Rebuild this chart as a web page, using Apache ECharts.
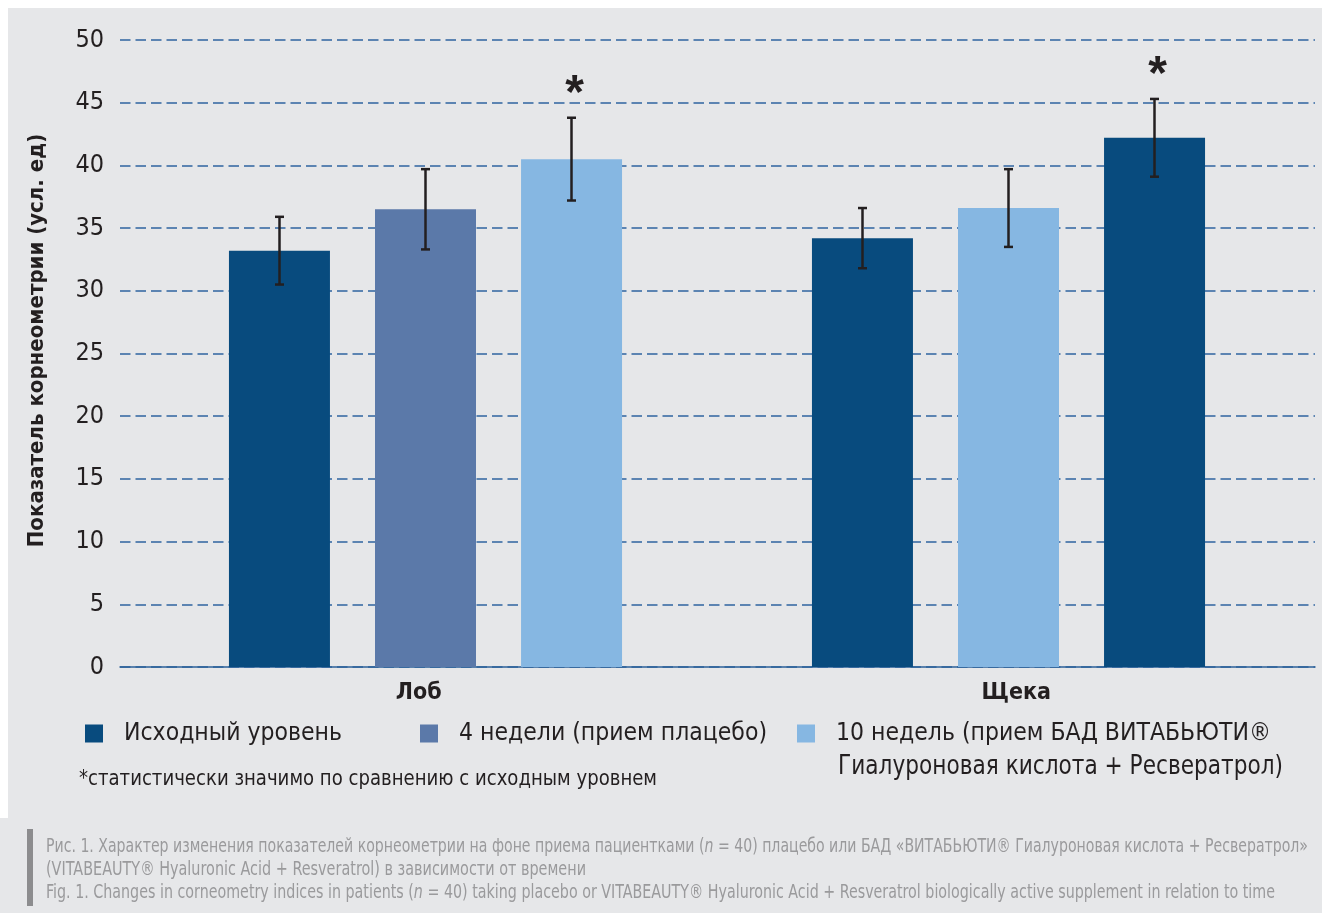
<!DOCTYPE html>
<html>
<head>
<meta charset="utf-8">
<script src="https://cdn.jsdelivr.net/npm/echarts@6/dist/echarts.min.js"></script>
<style>
  html, body { margin: 0; padding: 0; background: #ffffff; }
  #chart { width: 1322px; height: 913px; }
</style>
</head>
<body>
<div id="chart"></div>
<script>
// Body sites measured
const categories = ['Лоб', 'Щека'];

// Group names (legend)
const groupNames = [
  'Исходный уровень',
  '4 недели (прием плацебо)',
  '10 недель (прием БАД ВИТАБЬЮТИ®\nГиалуроновая кислота + Ресвератрол)'
];

// Mean corneometry values per site
const baselineValues = [33.2, 34.2];
const week4Values = [36.5, 36.6];
const week10Values = [40.5, 42.2];

// Error bar half-widths per site
const baselineErrors = [2.7, 2.4];
const week4Errors = [3.2, 3.1];
const week10Errors = [3.3, 3.1];

// Significance vs. baseline (asterisk)
const baselineSignificant = [false, false];
const week4Significant = [false, false];
const week10Significant = [true, true];

// Value axis
const yMin = 0;
const yMax = 50;
const yStep = 5;

const footnote = '*статистически значимо по сравнению с исходным уровнем';
const captionLine1 = 'Рис. 1. Характер изменения показателей корнеометрии на фоне приема пациентками ({i|n} = 40) плацебо или БАД «ВИТАБЬЮТИ® Гиалуроновая кислота + Ресвератрол»';
const captionLine2 = '(VITABEAUTY® Hyaluronic Acid + Resveratrol) в зависимости от времени';
const captionLine3 = 'Fig. 1. Changes in corneometry indices in patients ({i|n} = 40) taking placebo or VITABEAUTY® Hyaluronic Acid + Resveratrol biologically active supplement in relation to time';

// ---- styling ----
const DARK = '#084b7e';
const MID = '#5b79a9';
const LIGHT = '#86b7e2';
const groupColors = [DARK, MID, LIGHT];
// per-bar fill, [group][site]
const barFills = [[DARK, DARK], [MID, LIGHT], [LIGHT, DARK]];

const FONT = "'DejaVu Sans Condensed', 'Liberation Sans Narrow', 'Roboto', sans-serif";
const TEXT = '#231f20';
const BAR_W = 101;
const BAR_GAP = 45;

// horizontal squeeze so a condensed line fits its measured width
const measureCtx = document.createElement('canvas').getContext('2d');
function squeeze(text, size, weight, width) {
  measureCtx.font = (weight || 'normal') + ' ' + size + 'px ' + FONT;
  const plain = text.replace(/\{i\|([^}]*)\}/g, '$1');
  return width / measureCtx.measureText(plain).width;
}
function squeezedText(text, x, y, size, color, width, extra) {
  const sx = squeeze(text, size, 'normal', width);
  return Object.assign({
    type: 'text',
    x: x,
    y: y,
    scaleX: sx,
    silent: true,
    style: {
      text: text,
      x: 0, y: 0,
      verticalAlign: 'middle',
      fontFamily: FONT,
      fontSize: size,
      fill: color,
      rich: { i: { fontStyle: 'italic', fontFamily: FONT, fontSize: size, fill: color } }
    }
  }, extra || {});
}

const groupValues = [baselineValues, week4Values, week10Values];
const groupErrors = [baselineErrors, week4Errors, week10Errors];
const groupStars = [baselineSignificant, week4Significant, week10Significant];

const barSeries = groupNames.map((name, g) => ({
  name: name,
  type: 'bar',
  xAxisIndex: 1,
  yAxisIndex: 1,
  barWidth: BAR_W,
  barGap: (BAR_GAP / BAR_W * 100).toFixed(1) + '%',
  itemStyle: { color: groupColors[g] },
  data: groupValues[g].map((v, c) => ({ value: v, itemStyle: { color: barFills[g][c] } })),
  z: 2
}));

const errorData = [];
groupValues.forEach((vals, g) => {
  vals.forEach((v, c) => {
    errorData.push([c, g, v, groupErrors[g][c], groupStars[g][c] ? 1 : 0]);
  });
});

const errorSeries = {
  type: 'custom',
  xAxisIndex: 1,
  yAxisIndex: 1,
  silent: true,
  z: 5,
  data: errorData,
  renderItem: function (params, api) {
    const c = api.value(0);
    const g = api.value(1);
    const mean = api.value(2);
    const err = api.value(3);
    const star = api.value(4);
    const top = api.coord([c, mean + err]);
    const bot = api.coord([c, mean - err]);
    const x = top[0] + (g - 1) * (BAR_W + BAR_GAP);
    const stroke = { stroke: TEXT, lineWidth: 2.5 };
    const children = [
      { type: 'line', shape: { x1: x, y1: top[1], x2: x, y2: bot[1] }, style: stroke },
      { type: 'line', shape: { x1: x - 4.5, y1: top[1], x2: x + 4.5, y2: top[1] }, style: stroke },
      { type: 'line', shape: { x1: x - 4.5, y1: bot[1], x2: x + 4.5, y2: bot[1] }, style: stroke }
    ];
    if (star) {
      children.push({
        type: 'text',
        style: {
          text: '*',
          x: x + 3,
          y: top[1] - 23,
          align: 'center',
          verticalAlign: 'middle',
          fontFamily: "'Liberation Sans', Arial, sans-serif",
          fontWeight: 'bold',
          fontSize: 48,
          fill: TEXT
        }
      });
    }
    return { type: 'group', children: children };
  }
};

function legendFor(index, left) {
  return {
    data: [groupNames[index]],
    left: left,
    top: 716,
    icon: 'rect',
    itemWidth: 18,
    itemHeight: 18,
    selectedMode: false,
    formatter: function (name) { return name.split('\n')[0]; },
    textStyle: {
      fontFamily: FONT,
      fontSize: 24.5,
      color: TEXT,
      padding: [0, 0, 0, 16]
    }
  };
}

const chart = echarts.init(document.getElementById('chart'), null, { renderer: 'canvas' });

chart.setOption({
  backgroundColor: '#e6e7e9',
  animation: false,
  textStyle: { fontFamily: FONT },
  grid: [
    { left: 120, right: 7, top: 40, bottom: 246 },
    { left: 134, right: 22, top: 40, bottom: 246 }
  ],
  xAxis: [
    {
      type: 'category',
      gridIndex: 0,
      data: categories,
      axisLine: { show: true, lineStyle: { color: '#2d6199', width: 1.5 } },
      axisTick: { show: false },
      axisLabel: {
        margin: 15,
        fontFamily: FONT,
        fontWeight: 'bold',
        fontSize: 23,
        color: TEXT
      },
      splitLine: { show: false }
    },
    {
      type: 'category',
      gridIndex: 1,
      data: categories,
      show: false
    }
  ],
  yAxis: [
    {
      type: 'value',
      gridIndex: 0,
      min: yMin,
      max: yMax,
      interval: yStep,
      axisLine: { show: false },
      axisTick: { show: false },
      axisLabel: { margin: 16, fontFamily: FONT, fontSize: 25, color: TEXT },
      splitLine: { show: true, lineStyle: { color: '#2f64a0', width: 1.6, type: [10.5, 5] } },
      name: 'Показатель корнеометрии (усл. ед)',
      nameLocation: 'middle',
      nameGap: 72,
      nameTextStyle: { fontFamily: FONT, fontWeight: 'bold', fontSize: 22, color: TEXT, padding: [0, 0, 0, 26] }
    },
    {
      type: 'value',
      gridIndex: 1,
      min: yMin,
      max: yMax,
      interval: yStep,
      show: false,
      splitLine: { show: false }
    }
  ],
  legend: [legendFor(0, 80), legendFor(1, 415), legendFor(2, 792)],
  graphic: [
    { type: 'rect', shape: { x: 0, y: 0, width: 1322, height: 8 }, style: { fill: '#ffffff' }, silent: true },
    { type: 'rect', shape: { x: 0, y: 0, width: 8, height: 818 }, style: { fill: '#ffffff' }, silent: true },
    squeezedText(groupNames[2].split('\n')[1], 838, 767, 27, TEXT, 445),
    squeezedText(footnote, 79, 779, 22, TEXT, 578),
    { type: 'rect', shape: { x: 27, y: 829, width: 6, height: 77 }, style: { fill: '#8c8c8e' }, silent: true },
    squeezedText(captionLine1, 46, 847, 19, '#9a9a9c', 1262),
    squeezedText(captionLine2, 46, 870, 19, '#9a9a9c', 540),
    squeezedText(captionLine3, 46, 893, 19, '#9a9a9c', 1229)
  ],
  series: barSeries.concat([errorSeries])
});
</script>
</body>
</html>
